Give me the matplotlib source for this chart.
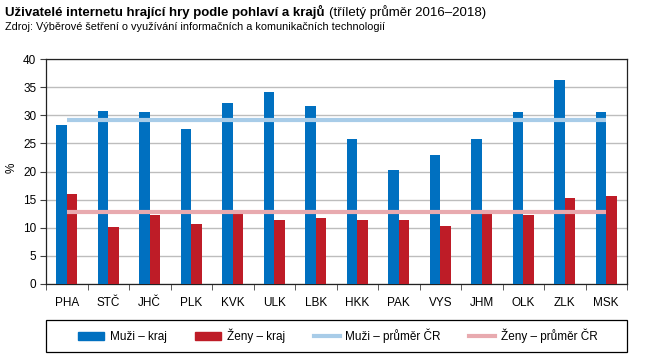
import matplotlib
matplotlib.use("Agg")
import matplotlib.pyplot as plt
import numpy as np
from matplotlib.patches import Patch, Rectangle
from matplotlib.lines import Line2D

plt.rcParams['font.family'] = ['Liberation Sans', 'DejaVu Sans']

regions = ["PHA", "STČ", "JHČ", "PLK", "KVK", "ULK", "LBK", "HKK", "PAK", "VYS", "JHM", "OLK", "ZLK", "MSK"]
men = [28.3, 30.8, 30.5, 27.6, 32.1, 34.2, 31.7, 25.8, 20.3, 23.0, 25.8, 30.6, 36.3, 30.5]
women = [16.0, 10.2, 12.3, 10.7, 12.6, 11.4, 11.8, 11.4, 11.4, 10.4, 12.6, 12.3, 15.3, 15.7]
men_avg = 29.2
women_avg = 12.8
labels = ["Muži – kraj", "Ženy – kraj", "Muži – průměr ČR", "Ženy – průměr ČR"]

c_men = "#0070C0"
c_women = "#BE1C27"
c_men_avg = "#A8CCE8"
c_women_avg = "#E8AAAF"

fig = plt.figure(figsize=(6.5, 3.57), dpi=100)
ax = fig.add_axes([46/650, 1-284/357, 581/650, 225/357])

x = np.arange(len(regions))
w = 0.25
ax.bar(x - w/2, men, w, color=c_men, zorder=3)
ax.bar(x + w/2, women, w, color=c_women, zorder=3)
ax.plot([x[0], x[-1]], [men_avg, men_avg], color=c_men_avg, lw=3, zorder=4, solid_capstyle='butt')
ax.plot([x[0], x[-1]], [women_avg, women_avg], color=c_women_avg, lw=3, zorder=4, solid_capstyle='butt')

ax.set_xlim(-0.5, len(regions) - 0.5)
ax.set_ylim(0, 40)
ax.set_yticks(range(0, 41, 5))
ax.yaxis.grid(True, color="#BDBDBD", lw=1, zorder=0)
ax.set_xticks(x)
ax.set_xticklabels(regions, fontsize=8.5)
ax.set_xticks(np.arange(-0.5, len(regions), 1), minor=True)
ax.tick_params(axis='x', which='major', length=0, pad=9)
ax.tick_params(axis='x', which='minor', length=4, color="#404040")
ax.tick_params(axis='y', labelsize=8.5, length=4, color="#404040", pad=3)
for s in ax.spines.values():
    s.set_color("#222222")
    s.set_linewidth(0.9)
fig.text(12/650, 1-168/357, "%", fontsize=8.5, rotation=90, ha='center', va='center')

# Title
t1 = fig.text(5/650, 1-12/357, "Uživatelé internetu hrající hry podle pohlaví a krajů", fontsize=9.5,
              fontweight='bold', va='center', ha='left')
fig.canvas.draw()
bb = t1.get_window_extent()
fig.text((bb.x1 + 4)/650, 1-12/357, "(tříletý průměr 2016–2018)", fontsize=9.5, va='center', ha='left')
fig.text(5/650, 1-27/357, "Zdroj: Výběrové šetření o využívání informačních a komunikačních technologií",
         fontsize=7.8, va='center', ha='left')

# Legend frame
fig.add_artist(Rectangle((46/650, 1-352/357), 581/650, 32/357, transform=fig.transFigure,
                         fill=False, edgecolor='black', lw=0.9))
handles = [Patch(color=c_men), Patch(color=c_women),
           Line2D([0], [0], color=c_men_avg, lw=3), Line2D([0], [0], color=c_women_avg, lw=3)]
leg = fig.legend(handles, labels, loc='center', ncol=4, fontsize=8.5,
                 bbox_to_anchor=(338/650, 1-336/357), frameon=False, borderaxespad=0,
                 handlelength=2.2, handleheight=0.75, handletextpad=0.5, columnspacing=2.4)

fig.savefig("out.png", dpi=100)
